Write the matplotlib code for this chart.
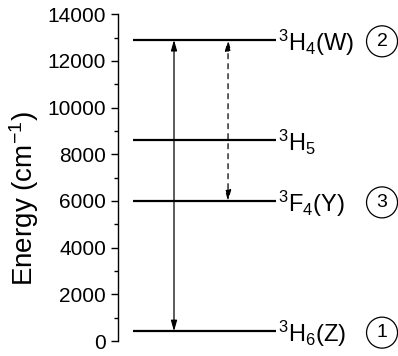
import numpy as np
import matplotlib
matplotlib.use('Agg')
import matplotlib.pyplot as plt

plt.rcParams['font.family'] = 'Liberation Sans'
plt.rcParams['mathtext.fontset'] = 'custom'
plt.rcParams['mathtext.rm'] = 'Liberation Sans'
plt.rcParams['mathtext.it'] = 'Liberation Sans:italic'
plt.rcParams['mathtext.default'] = 'regular'

# energy levels (cm-1)
levels = [420, 6000, 8600, 12900]
level_labels = ['$^3$H$_6$(Z)', '$^3$F$_4$(Y)', '$^3$H$_5$', '$^3$H$_4$(W)']
circle_nums = ['1', '3', '', '2']

# transitions
solid_arrow = (420, 12900)
dashed_arrow = (6000, 12900)

fig = plt.figure(figsize=(3.98, 3.56), dpi=100)
ax = fig.add_axes([0.2965, 0.042, 0.7035, 0.918])

x0, x1 = 0.054, 0.564
for e, lab, num in zip(levels, level_labels, circle_nums):
    ax.plot([x0, x1], [e, e], color='black', lw=1.6, solid_capstyle='butt')
    ax.text(x1 + 0.008, e - 470, lab, fontsize=17, va='baseline', ha='left')
    if num:
        ax.text(0.943, e - 60, num, fontsize=14, va='center', ha='center',
                bbox=dict(boxstyle='circle,pad=0.36', fc='none', ec='black', lw=0.9))

ax.annotate('', xy=(0.2, solid_arrow[1]), xytext=(0.2, solid_arrow[0]),
            arrowprops=dict(arrowstyle='<|-|>,head_length=0.7,head_width=0.2',
                            color='black', lw=0.9, mutation_scale=9,
                            shrinkA=0, shrinkB=0))
ax.annotate('', xy=(0.393, dashed_arrow[1]), xytext=(0.393, dashed_arrow[0]),
            arrowprops=dict(arrowstyle='<|-|>,head_length=0.7,head_width=0.2',
                            color='black', lw=0.9, ls=(0, (4, 4)), mutation_scale=9,
                            shrinkA=0, shrinkB=0))

ax.set_xlim(0, 1)
ax.set_ylim(0, 14000)
ax.set_yticks(np.arange(0, 14001, 2000))
ax.set_yticks(np.arange(0, 14001, 1000), minor=True)
ax.tick_params(axis='y', which='major', length=5, width=1, labelsize=15)
ax.tick_params(axis='y', which='minor', length=3, width=1)
ax.set_xticks([])
for s in ['top', 'right', 'bottom']:
    ax.spines[s].set_visible(False)
ax.spines['left'].set_linewidth(1)
ax.set_ylabel('Energy (cm$^{-1}$)', fontsize=20)
ax.yaxis.set_label_coords(-0.275, 0.435)

fig.savefig('out.png', dpi=100)
